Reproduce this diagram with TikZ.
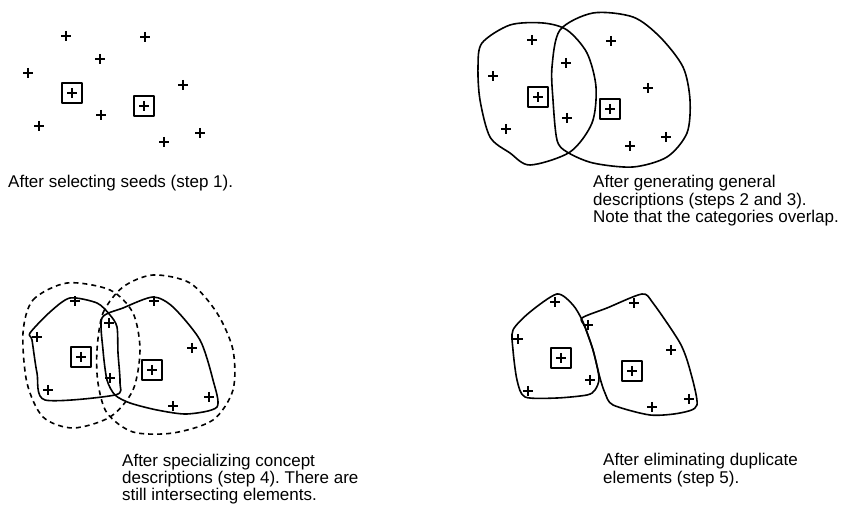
\documentclass[tikz,border=0pt]{standalone}
\usepackage{fontspec}
\setmainfont{Liberation Sans}
\usetikzlibrary{positioning}
\frenchspacing

\begin{document}
\begin{tikzpicture}[x=1pt, y=-1pt, line join=round,
  outline/.style={line width=1.6pt},
  halo/.style={line width=1.6pt, dash pattern=on 5pt off 4pt},
  caption/.style={anchor=base west, align=left, inner sep=0pt, font=\fontsize{17}{17.5}\selectfont},
  plussign/.pic={\draw (-5,0) -- (5,0) (0,-5) -- (0,5);},
  seedbox/.pic={\draw[line width=1.5pt] (-10,-10) rectangle (10,10);
                \draw (-5,0) -- (5,0) (0,-5) -- (0,5);}]
  \useasboundingbox (0,0) rectangle (844,510);

  % Panel 1: seeds selected
  \foreach \p in {(66,36),(145,37),(100,59),(28,73),(183,85),(101,115),(39,126),(200,133),(164,142)}
    \pic[line width=1.9pt] at \p {plussign};
  \pic[line width=1.8pt] at (72,93) {seedbox};
  \pic[line width=1.8pt] at (144,106) {seedbox};
  % (base of the last line)
  \node[caption] (cap1) at (8,188) {After selecting seeds (step 1).};

  % Panel 2: general descriptions
  \draw[outline] plot[smooth cycle] coordinates {(478,67) (482,43) (510,25) (543,23) (567,30) (587,53) (596,87) (592,123) (570,152) (530,165) (510,153) (490,137) (480,100)};
  \draw[outline] plot[smooth cycle] coordinates {(553,100) (552,67) (560,30) (593,13) (633,17) (660,37) (683,67) (690,100) (687,133) (667,157) (633,167) (593,163) (567,152) (557,140)};
  \foreach \p in {(532,40),(611,41),(493,76),(566,63),(648,88),(567,118),(506,129),(666,137),(630,146)}
    \pic[line width=1.4pt] at \p {plussign};
  \pic[line width=1.4pt] at (538,97) {seedbox};
  \pic[line width=1.4pt] at (610,109) {seedbox};
  \node[caption] (cap2) at (593,223) {After generating general\\descriptions (steps 2 and 3).\\Note that the categories overlap.};

  % Panel 3: specialized descriptions
  \draw[halo] plot[smooth cycle] coordinates {(23,333) (33,300) (67,283) (110,290) (133,313) (140,350) (133,390) (110,417) (73,428) (43,417) (27,383)};
  \draw[halo] plot[smooth cycle] coordinates {(97,350) (103,313) (123,287) (153,275) (190,283) (217,313) (233,350) (233,390) (213,420) (173,433) (133,432) (107,413) (98,383)};
  \draw[outline] plot[smooth cycle, tension=0.45] coordinates {(30,333) (50,312) (70,298) (97,303) (110,315) (117,327) (118,353) (120,383) (115,395) (45,400) (37,373) (32,340)};
  \draw[outline] plot[smooth cycle, tension=0.45] coordinates {(102,318) (123,308) (153,297) (173,307) (200,340) (213,380) (217,407) (187,414) (157,410) (130,403) (115,395) (107,380) (103,350)};
  \foreach \p in {(75,301),(154,301),(37,337),(109,323),(192,348),(110,378),(48,390),(209,397),(173,406)}
    \pic[line width=1.4pt] at \p {plussign};
  \pic[line width=1.4pt] at (81,357) {seedbox};
  \pic[line width=1.4pt] at (152,370) {seedbox};
  \node[caption] (cap3) at (122,501) {After specializing concept\\descriptions (step 4). There are\\still intersecting elements.};

  % Panel 4: duplicates removed
  \draw[outline] plot[smooth cycle, tension=0.45] coordinates {(513,330) (530,312) (557,294) (573,305) (583,322) (593,350) (599,378) (595,390) (587,395) (557,398) (525,397) (517,380) (513,350)};
  \draw[outline] plot[smooth cycle, tension=0.45] coordinates {(582,318) (607,308) (642,294) (653,303) (680,343) (690,370) (697,405) (680,413) (650,415) (613,405) (605,393) (600,378) (593,350) (585,327)};
  \foreach \p in {(555,302),(634,303),(518,339),(588,325),(671,350),(590,380),(528,391),(689,399),(652,407)}
    \pic[line width=1.4pt] at \p {plussign};
  \pic[line width=1.4pt] at (561,358) {seedbox};
  \pic[line width=1.4pt] at (632,371) {seedbox};
  \node[caption] (cap4) at (603,483.5) {After eliminating duplicate\\elements (step 5).};
\end{tikzpicture}
\end{document}
